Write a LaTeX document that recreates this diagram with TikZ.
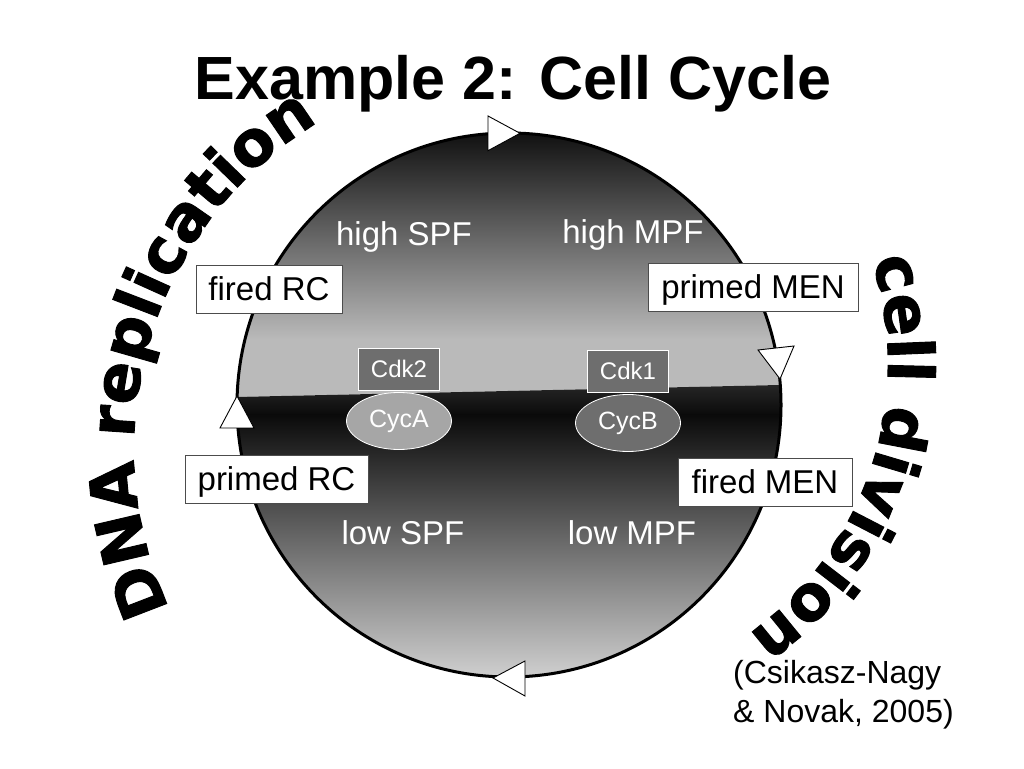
\documentclass[tikz,border=0pt]{standalone}
\usepackage{fontspec}
\setmainfont{Liberation Sans}
\newfontfamily\arcfont[FakeBold=1.5]{DejaVu Sans Bold}
\usetikzlibrary{decorations.text,shapes.geometric}
\newcommand\arcstyle{\arcfont\fontsize{63}{63}\selectfont}
\begin{document}
\begin{tikzpicture}[x=1pt,y=1pt,
  lbl/.style={font=\fontsize{33}{33}\selectfont, text=white, inner sep=0pt},
  statebox/.style={draw=black!70, line width=0.8pt, fill=white, inner sep=0pt, minimum height=48pt, text height=30pt, text depth=6pt, font=\fontsize{33}{33}\selectfont},
  cdk/.style={draw=white, line width=0.8pt, fill=black!57, text=white, inner sep=0pt, minimum width=81pt, minimum height=42pt, font=\fontsize{24}{24}\selectfont},
  cyc/.style={ellipse, draw=white, line width=0.8pt, text=white, inner sep=0pt, minimum width=105pt, minimum height=57pt, font=\fontsize{25}{25}\selectfont},
  tri/.style={draw=black, fill=white, line width=0.9pt, line join=miter},
  cite/.style={anchor=base west, inner sep=0pt, font=\fontsize{32}{32}\selectfont}
]
\useasboundingbox (0,0) rectangle (1024,768);
\fill[white] (0,0) rectangle (1024,768);

\coordinate (C) at (509,363);
\begin{scope}
  \clip (C) circle[radius=272];
  \begin{scope}
    \clip (200,370.2) -- (820,383.9) -- (820,650) -- (200,650) -- cycle;
    \shade[top color=black!95, bottom color=black!27] (220,428) rectangle (800,640);
    \fill[black!27] (220,360) rectangle (800,428.5);
  \end{scope}
  \begin{scope}
    \clip (200,370.2) -- (820,383.9) -- (820,80) -- (200,80) -- cycle;
    \shade[top color=black!82, bottom color=black!96] (220,353) rectangle (800,392);
    \shade[top color=black!96, bottom color=black!17] (220,85) rectangle (800,353.5);
  \end{scope}
\end{scope}
\draw[line width=3pt] (C) circle[radius=272];

% arrowheads on the cycle
\draw[tri] (488,652) -- (488,617.3) -- (520,634.7) -- cycle;
\draw[tri] (758,418) -- (794,422) -- (780,389) -- cycle;
\draw[tri] (525,107) -- (525,72) -- (493,90) -- cycle;
\draw[tri] (237,372) -- (220,340) -- (254,340) -- cycle;

% title
\node[font=\bfseries\fontsize{61}{61}\selectfont, anchor=base, inner sep=0pt] (title) at (513,668) {Example 2: Cell Cycle};

% curved labels
\path[decorate, decoration={text along path, text align=fit to path, text={|\arcstyle|DNA replication}}]
  (514,320) ++(205:380) arc[start angle=205, end angle=123, radius=380];
\path[decorate, decoration={text along path, text align=fit to path, text={|\arcstyle|cell division}}]
  (555,405) ++(18:333) arc[start angle=18, end angle=-53, radius=333];

% phase labels
\node[lbl] (hspf) at (404,531) {high SPF};
\node[lbl] (hmpf) at (633,533) {high MPF};
\node[lbl] (lspf) at (403,235) {low SPF};
\node[lbl] (lmpf) at (632,235) {low MPF};

% state boxes
\node[statebox, minimum width=146pt] (frc) at (269,479) {fired RC};
\node[statebox, minimum width=210pt] (pmen) at (753,481) {primed MEN};
\node[statebox, minimum width=183pt] (prc) at (276.5,289) {primed RC};
\node[statebox, minimum width=174pt] (fmen) at (765,286) {fired MEN};

% complexes
\node[cyc, fill=black!35] (cyca) at (399,347) {CycA};
\node[cyc, fill=black!57] (cycb) at (628,345) {CycB};
\node[cdk] (cdk2) at (399,399) {Cdk2};
\node[cdk] (cdk1) at (628,397) {Cdk1};

% citation
\node[cite] (cite1) at (733,85) {(Csikasz-Nagy};
\node[cite] (cite2) at (733,46) {\& Novak, 2005)};
\end{tikzpicture}
\end{document}
